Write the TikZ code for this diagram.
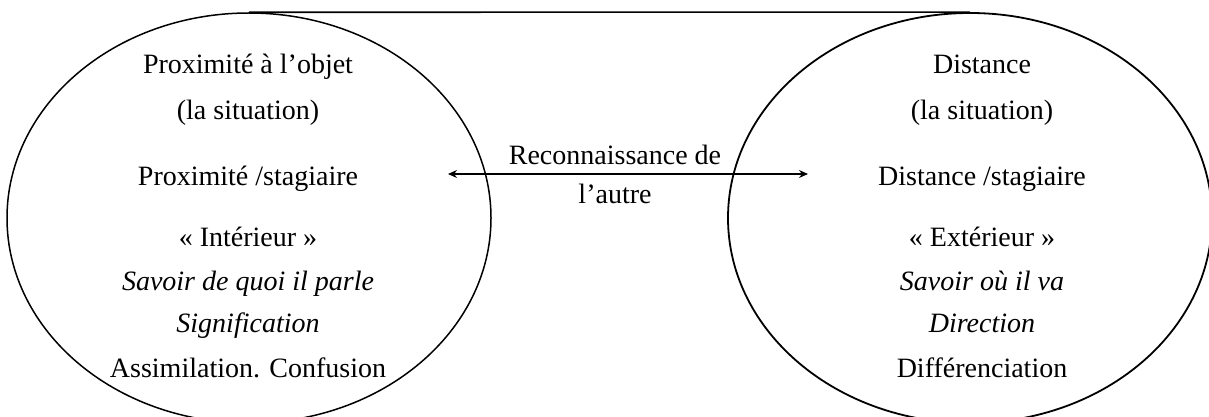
\documentclass[tikz,border=0pt]{standalone}
\usepackage{fontspec}
\setmainfont{Liberation Serif}
\usetikzlibrary{
  arrows.meta,
  positioning,
  shapes.geometric
}
\tikzset{
  pole/.style={draw=black,ellipse,line width=1.5pt,inner sep=0pt,minimum width=484pt,minimum height=410pt},
  ligne/.style={font=\fontsize{28}{34}\selectfont,anchor=base,inner sep=0pt},
  italique/.style={ligne,font=\fontsize{28}{34}\selectfont\itshape},
  lien/.style={{Stealth[length=9pt,width=8pt]}-{Stealth[length=9pt,width=8pt]},line width=1.1pt}
}

\begin{document}
\begin{tikzpicture}[x=1pt,y=-1pt]
\useasboundingbox (0,0) rectangle (1209,417);
\node[pole] (prox) at (249,218) {};
\node[pole,line width=1.8pt] (dist) at (970,218) {};
\draw[line width=1.6pt] (prox.north) -- (dist.north);

\node[ligne] (p1) at (248,74) {Proximité à l’objet};
\node[ligne] (p2) at (248,120) {(la situation)};
\node[ligne] (p3) at (248,185) {Proximité /stagiaire};
\node[ligne] (p4) at (248,246) {« Intérieur »};
\node[italique] (p5) at (248,290) {Savoir de quoi il parle};
\node[italique] (p6) at (248,332) {Signification};
\node[ligne] (p7) at (248,377) {Assimilation. Confusion};

\node[ligne] (d1) at (982,74) {Distance};
\node[ligne] (d2) at (982,120) {(la situation)};
\node[ligne] (d3) at (982,185) {Distance /stagiaire};
\node[ligne] (d4) at (982,246) {« Extérieur »};
\node[italique] (d5) at (982,290) {Savoir où il va};
\node[italique] (d6) at (982,332) {Direction};
\node[ligne] (d7) at (982,377) {Différenciation};

\coordinate (ga) at (448,174);
\coordinate (da) at (808,174);
\draw[lien] (ga) -- (da);
\node[ligne] (r1) at (615,164) {Reconnaissance de};
\node[ligne] (r2) at (615,203) {l’autre};
\end{tikzpicture}
\end{document}
